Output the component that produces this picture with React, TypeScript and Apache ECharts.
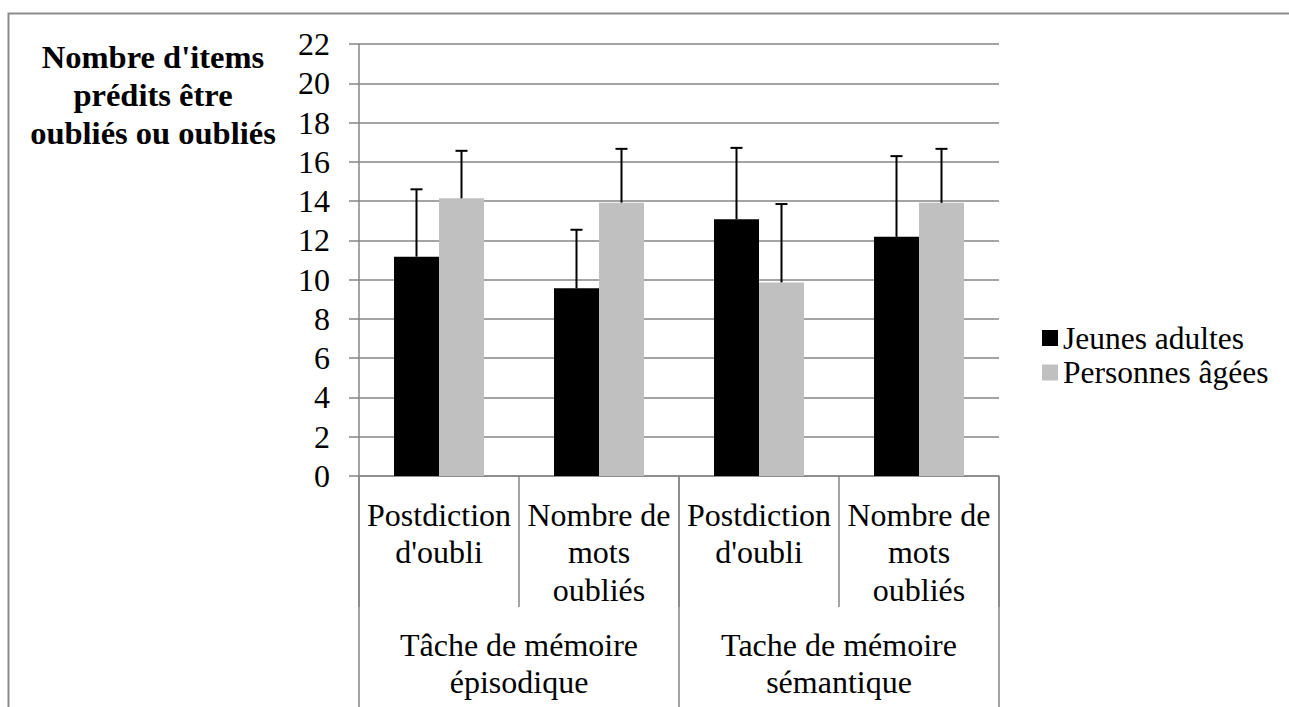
import React, { useEffect, useRef } from "react";
import * as echarts from "echarts";

const categories = ["Postdiction\nd'oubli", "Nombre de\nmots\noubliés", "Postdiction\nd'oubli", "Nombre de\nmots\noubliés"];
const groups = ["Tâche de mémoire\népisodique", "Tache de mémoire\nsémantique"];
const seriesNames = ["Jeunes adultes", "Personnes âgées"];
const jeunesMeans = [11.17, 9.56, 13.08, 12.18];
const jeunesErr = [3.43, 2.98, 3.63, 4.11];
const agesMeans = [14.14, 13.92, 9.86, 13.91];
const agesErr = [2.42, 2.74, 3.99, 2.75];
const yTitle = "Nombre d'items\nprédits être\noubliés ou oubliés";

const FONT = '"Liberation Serif", "Times New Roman", serif';
const GRAY = "#868686";
const BAR_W = 45;

export default function App() {
  const ref = useRef<HTMLDivElement>(null);
  useEffect(() => {
    if (!ref.current) return;
    const chart = echarts.init(ref.current, null, { renderer: "svg" });
    const errSeries = (means: number[], errs: number[], offset: number, name: string) => ({
      type: "custom",
      name: name + " err",
      z: 10,
      silent: true,
      data: means.map((m, i) => [i, m, m + errs[i]]),
      renderItem: (params: any, api: any) => {
        const lo = api.coord([api.value(0), api.value(1)]);
        const hi = api.coord([api.value(0), api.value(2)]);
        const x = lo[0] + offset;
        const style = { stroke: "#000", lineWidth: 2 };
        return {
          type: "group",
          children: [
            { type: "line", shape: { x1: x, y1: lo[1], x2: x, y2: hi[1] }, style },
            { type: "line", shape: { x1: x - 6, y1: hi[1], x2: x + 6, y2: hi[1] }, style },
          ],
        };
      },
    });
    chart.setOption({
      animation: false,
      backgroundColor: "#fff",
      textStyle: { fontFamily: FONT },
      grid: { left: 359, right: 290, top: 44, bottom: 231 },
      legend: {
        data: seriesNames,
        orient: "vertical",
        left: 1042,
        top: 322,
        padding: 0,
        icon: "rect",
        itemWidth: 16,
        itemHeight: 16,
        itemGap: 2.5,
        textStyle: { fontSize: 31.5, color: "#000", fontFamily: FONT, lineHeight: 31 },
      },
      xAxis: [
        {
          type: "category",
          data: categories,
          axisLine: { show: true, lineStyle: { color: GRAY, width: 1.5 } },
          axisTick: { show: true, interval: 0, length: 131, lineStyle: { color: GRAY, width: 1.5 } },
          axisLabel: { interval: 0, fontSize: 32, lineHeight: 37.5, color: "#000", margin: 20, fontFamily: FONT },
        },
        {
          type: "category",
          data: groups,
          position: "bottom",
          offset: 0,
          axisLine: { show: false },
          axisTick: { show: true, interval: 0, length: 260, lineStyle: { color: GRAY, width: 1.5 } },
          axisLabel: { interval: 0, fontSize: 32, lineHeight: 37.5, color: "#000", margin: 150, fontFamily: FONT },
        },
      ],
      yAxis: {
        type: "value",
        min: 0,
        max: 22,
        interval: 2,
        axisLine: { show: true, lineStyle: { color: GRAY, width: 1.5 } },
        axisTick: { show: true, length: 10, lineStyle: { color: GRAY, width: 1.5 } },
        splitLine: { show: true, lineStyle: { color: GRAY, width: 1.5 } },
        axisLabel: { fontSize: 32, color: "#000", margin: 29, fontFamily: FONT },
      },
      series: [
        {
          type: "bar",
          name: seriesNames[0],
          data: jeunesMeans,
          barWidth: BAR_W,
          barGap: "0%",
          itemStyle: { color: "#000000" },
        },
        {
          type: "bar",
          name: seriesNames[1],
          data: agesMeans,
          barWidth: BAR_W,
          barGap: "0%",
          itemStyle: { color: "#c0c0c0" },
        },
        errSeries(jeunesMeans, jeunesErr, -BAR_W / 2, seriesNames[0]),
        errSeries(agesMeans, agesErr, BAR_W / 2, seriesNames[1]),
      ],
      graphic: [
        {
          type: "rect",
          shape: { x: 8.5, y: 13.5, width: 1400, height: 800 },
          style: { fill: "none", stroke: "#8c8c8c", lineWidth: 2 },
          silent: true,
        },
        {
          type: "text",
          x: 153,
          y: 38,
          style: {
            text: yTitle,
            fontFamily: FONT,
            fontSize: 32.5,
            fontWeight: "bold",
            lineHeight: 38,
            align: "center",
            verticalAlign: "top",
            fill: "#000",
          },
        },
      ],
    });
    return () => chart.dispose();
  }, []);
  return <div ref={ref} style={{ position: "fixed", left: 0, top: 0, width: 1289, height: 707 }} />;
}
